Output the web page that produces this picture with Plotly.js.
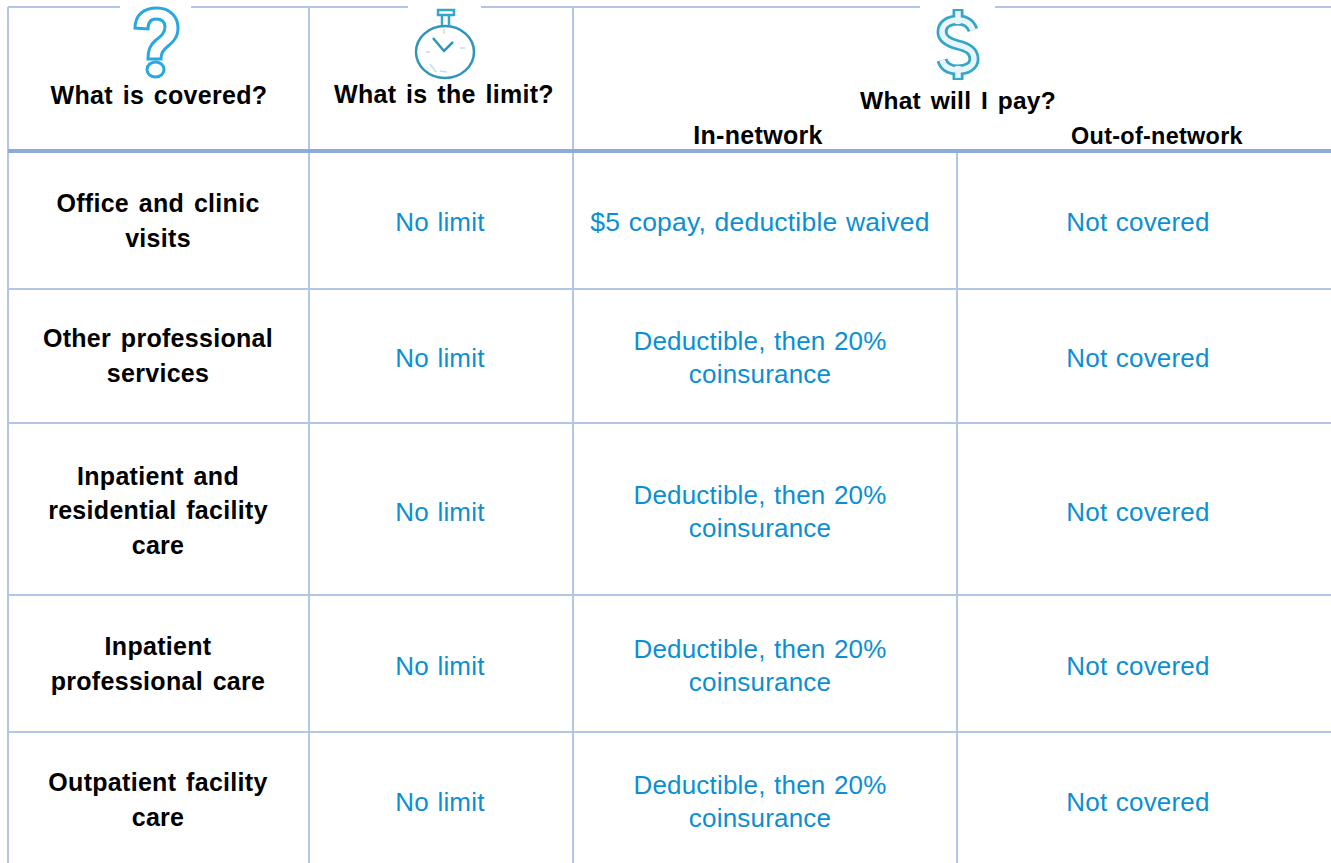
<!DOCTYPE html>
<html><head><meta charset="utf-8">
<script src="https://cdn.plot.ly/plotly-3.0.1.min.js"></script>
<style>html,body{margin:0;padding:0;background:#fff}#c{width:1331px;height:863px}</style>
</head><body><div id="c"></div>
<script>
// table content
const rowLabels = [["Office and clinic","visits"],["Other professional","services"],["Inpatient and","residential facility","care"],["Inpatient","professional care"],["Outpatient facility","care"]];
const limits = ["No limit","No limit","No limit","No limit","No limit"];
const inNetwork = [["$5 copay, deductible waived"],["Deductible, then 20%","coinsurance"],["Deductible, then 20%","coinsurance"],["Deductible, then 20%","coinsurance"],["Deductible, then 20%","coinsurance"]];
const outNetwork = ["Not covered","Not covered","Not covered","Not covered","Not covered"];
const headerTexts = ["What is covered?","What is the limit?","What will I pay?","In-network","Out-of-network"];
// table geometry, in axis units
const W = 1331, H = 863;
const headerX = [159,444,958,758,1157];
const headerY = [98,97,103,138,138];
const headerSizes = [25,25,24.5,25,23.4];
const colCentres = [158,440,760,1138];
const labelCentreY = [223,358,513,666,802];
const limitY = [224,360,514,668,804];
const payCentreY = [224,360,514,668,804];
const vLines = [8,309,573];
const vSplit = 957;
const topY = 7, headerRule = 151, tableBottom = 863;
const rowRules = [289,423,595,732];
const topGaps = [[120,191],[408,481],[920,995]];

const grid = "#B4C6E7", ruleCol = "#8EAADB", blue = "#0B8FD3";
const fontFam = '"Liberation Sans", Arial, sans-serif';

function stack(groups, xc, ys, pitch){
  const x=[],y=[],t=[];
  groups.forEach((ls,i)=>ls.forEach((s,j)=>{x.push(xc);y.push(ys[i]+(j-(ls.length-1)/2)*pitch);t.push(s);}));
  return {x,y,text:t};
}
function textTrace(d,color,bold,size){
  return {type:"scatter",mode:"text",x:d.x,y:d.y,text:d.text,textposition:"middle center",hoverinfo:"skip",showlegend:false,
    textfont:{family:fontFam,size:size,color:color,weight:bold?700:400}};
}
function lineTrace(x,y,color,width){
  return {type:"scatter",mode:"lines",x,y,line:{color,width},hoverinfo:"skip",showlegend:false,connectgaps:false};
}
const gx=[],gy=[];
vLines.forEach(v=>{gx.push(v,v,null);gy.push(topY,tableBottom,null);});
gx.push(vSplit,vSplit,null);gy.push(headerRule,tableBottom,null);
rowRules.forEach(r=>{gx.push(vLines[0],W,null);gy.push(r,r,null);});
let cur=vLines[0];
topGaps.forEach(g=>{gx.push(cur,g[0],null);gy.push(topY,topY,null);cur=g[1];});
gx.push(cur,W);gy.push(topY,topY);

const inNet = stack(inNetwork,colCentres[2],payCentreY,33);
const traces=[
  lineTrace(gx,gy,grid,2),
  lineTrace([vLines[0],W],[headerRule,headerRule],ruleCol,4),
  textTrace({x:headerX,y:headerY,text:headerTexts},"#000",true,headerSizes),
  textTrace(stack(rowLabels,colCentres[0],labelCentreY,34.5),"#000",true,25),
  textTrace({x:limits.map(()=>colCentres[1]),y:limitY,text:limits},blue,false,26),
  textTrace(inNet,blue,false,inNet.text.map(s=>s.startsWith("$")?26.5:26)),
  textTrace({x:outNetwork.map(()=>colCentres[3]),y:limitY,text:outNetwork},blue,false,26)
];

const sPath="M973,30 C970,22 964,20 958,20 C948,20 942,25 942,32 C942,40 950,43 958,45 C966,47 974,50 974,59 C974,66 967,70 958,70 C950,70 944,67 942,60";
const stem1="M958,9 L958,20", stem2="M958,70 L958,80";
function p(path,color,width,fill){return {type:"path",xref:"x",yref:"y",path,line:{color,width},fillcolor:fill||"rgba(0,0,0,0)",layer:"above"};}
const wc="#35A6C8", tc="#2F94BE", qc="#27A8E0";
const shapes=[
  // question mark
  p("M135,28 C135,14 145,8 157,8 C170,8 178,17 178,28 C178,38 172,43 167,47 C163,50 161,53 161,59 L148,59 C148,50 150,45 156,40 C161,36 165,33 165,27 C165,21 161,19 156,19 C151,19 148,22 148,29 Z",qc,3),
  {type:"circle",xref:"x",yref:"y",x0:147,x1:164,y0:62,y1:77,line:{color:qc,width:3},layer:"above"},
  // stopwatch
  {type:"circle",xref:"x",yref:"y",x0:416,x1:474,y0:26,y1:78,line:{color:tc,width:2.5},layer:"above"},
  p("M438,10 L454,10 L454,15 L438,15 Z",wc,2.5),
  p("M442,15 L442,25 M449,15 L449,25",wc,2.5),
  p("M433,38 L444,51 L453,42",tc,2.5),
  p("M444,29 L444,34 M426,52 L430,52 M460,48 L465,48 M430,64 L436,72 M440,71 L447,72","#C9DDE8",1.5),
  // dollar
  p(stem1,wc,11),p(stem2,wc,11),p(sPath,wc,11),
  p(sPath,"#E8F5FA",5.5),p("M958,11 L958,24","#E8F5FA",5.5),p("M958,66 L958,78","#E8F5FA",5.5)
];

Plotly.newPlot("c",traces,{
  width:W,height:H,margin:{l:0,r:0,t:0,b:0},paper_bgcolor:"#fff",plot_bgcolor:"#fff",showlegend:false,
  xaxis:{range:[0,W],visible:false,fixedrange:true},
  yaxis:{range:[H,0],visible:false,fixedrange:true},
  shapes
},{displayModeBar:false,staticPlot:true}).then(()=>{
  document.querySelectorAll(".textpoint text").forEach(t=>{
    const black = /rgb\(0, 0, 0\)/.test(t.style.fill);
    t.style.letterSpacing = black ? "0.3px" : "0.2px";
    t.style.wordSpacing = black ? "2.5px" : "1px";
  });
});
</script></body></html>
